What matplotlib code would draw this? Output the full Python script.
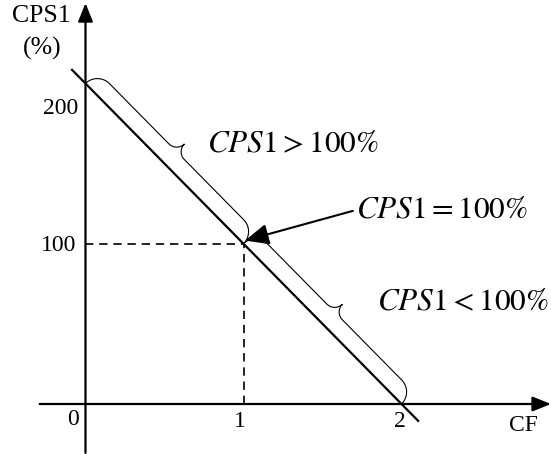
import numpy as np
import matplotlib
matplotlib.use("Agg")
import matplotlib.pyplot as plt
from matplotlib.path import Path
from matplotlib.patches import PathPatch

plt.rcParams['font.family'] = ['Liberation Serif', 'DejaVu Serif']
plt.rcParams['mathtext.fontset'] = 'stix'

# ---- data ----
line_cf = [-0.09, 2.11]
line_cps = [209, -11]
point_cf = 1
point_cps = 100
x_ticks = [0, 1, 2]
x_tick_labels = ['0', '1', '2']
y_ticks = [100, 200]
y_tick_labels = ['100', '200']
brace_segments = [((0, 200), (1, 100)), ((1, 100), (2, 0))]
labels = [r'$CPS\mathrm{1}>\mathrm{100\%}$',
          r'$CPS\mathrm{1}=\mathrm{100\%}$',
          r'$CPS\mathrm{1}<\mathrm{100\%}$']

W, H = 551, 454
fig = plt.figure(figsize=(W / 100, H / 100), dpi=100)
ax = fig.add_axes([0, 0, 1, 1])
ax.set_xlim(-0.541, 2.946)
ax.set_ylim(-31.2, 252.1)
ax.axis('off')

# axes with arrows
ax.annotate('', xy=(2.946, 0), xytext=(-0.29, 0),
            arrowprops=dict(arrowstyle='-|>,head_length=0.8,head_width=0.32',
                            mutation_scale=14, lw=1.6, color='black',
                            shrinkA=0, shrinkB=0))
ax.annotate('', xy=(0, 250.2), xytext=(0, -30.5),
            arrowprops=dict(arrowstyle='-|>,head_length=0.8,head_width=0.32',
                            mutation_scale=14, lw=1.6, color='black',
                            shrinkA=0, shrinkB=0))

# main line
ax.plot(line_cf, line_cps, color='black', lw=1.6, solid_capstyle='butt')

# dashed guides
ax.plot([0, point_cf], [point_cps, point_cps], color='black', lw=1.2,
        dashes=(5, 3.5))
ax.plot([point_cf, point_cf], [0, point_cps], color='black', lw=1.2,
        dashes=(5, 3.5))


def brace(p0, p1, r1=17, r2=11, n=30):
    P0 = ax.transData.transform(p0)
    P1 = ax.transData.transform(p1)
    v = P1 - P0
    L = np.hypot(*v)
    d = v / L
    nrm = np.array([-d[1], d[0]])
    pts = []
    t = np.linspace(np.pi, np.pi / 2, n)
    pts += [(r1 + r1 * np.cos(a), r1 * np.sin(a)) for a in t]
    t = np.linspace(-np.pi / 2, 0, n)
    pts += [(L / 2 - r2 + r2 * np.cos(a), r1 + r2 + r2 * np.sin(a)) for a in t]
    half2 = [(L - u, w) for (u, w) in pts[::-1]]
    pts = pts + half2
    xy = np.array([P0 + u * d + w * nrm for (u, w) in pts])
    ax.add_patch(PathPatch(Path(xy), fill=False, lw=0.8, edgecolor='black',
                           transform=None))


for s0, s1 in brace_segments:
    brace(s0, s1)

# arrow pointing to (1,100)
ax.annotate(labels[1], xy=(point_cf + 0.01, point_cps + 2), xytext=(1.71, 121),
            ha='left', va='center', fontsize=22.5,
            arrowprops=dict(arrowstyle='-|>,head_length=0.9,head_width=0.4',
                            mutation_scale=16, lw=1.5, color='black',
                            shrinkA=0, shrinkB=0, relpos=(0, 0.5)))

ax.text(0.768, 162, labels[0], ha='left', va='center', fontsize=22.5)
ax.text(1.845, 63, labels[2], ha='left', va='center', fontsize=22.5)

# tick labels
for xv, lab, dx, yy in zip(x_ticks, x_tick_labels, [-0.076, -0.022, -0.01],
                           [-9.4, -11, -11.2]):
    ax.text(xv + dx, yy, lab, ha='center', va='center', fontsize=17)
for yv, lab, dy, xx in zip(y_ticks, y_tick_labels, [-1.4, -15.6],
                           [-0.168, -0.158]):
    ax.text(xx, yv + dy, lab, ha='center', va='center', fontsize=17)

ax.text(2.769, -13.7, 'CF', ha='center', va='center', fontsize=17)
ax.text(-0.282, 242, 'CPS1', ha='center', va='center', fontsize=18.5)
ax.text(-0.275, 222, '(%)', ha='center', va='center', fontsize=18.5)

fig.savefig('out.png', dpi=100)
